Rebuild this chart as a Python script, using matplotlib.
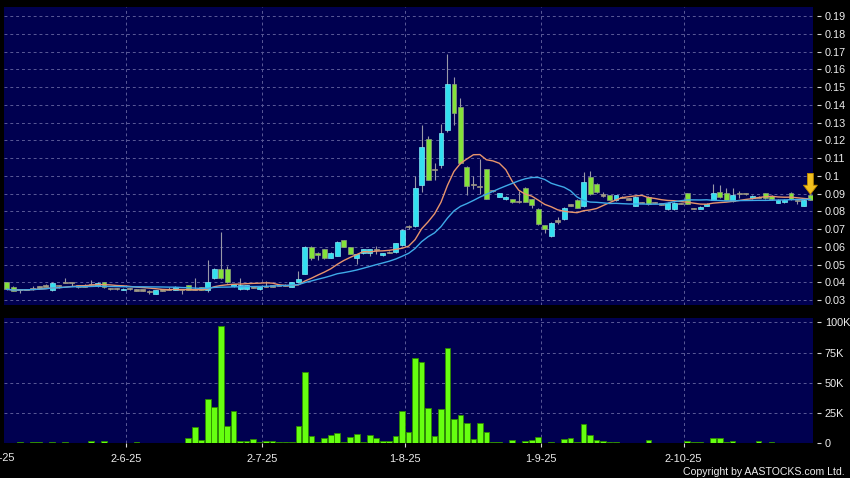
import numpy as np
import pandas as pd
import matplotlib
matplotlib.use('Agg')
import matplotlib.pyplot as plt

plt.rcParams['font.family'] = ['Liberation Sans', 'DejaVu Sans']

# 日线数据 (开, 高, 低, 收), 125 个交易日
opens = [0.0400, 0.0375, 0.0360, 0.0360, 0.0365, 0.0375, 0.0380, 0.0355, 0.0383, 0.0400,
         0.0398, 0.0380, 0.0380, 0.0390, 0.0380, 0.0400, 0.0365, 0.0365, 0.0362, 0.0365,
         0.0358, 0.0357, 0.0350, 0.0336, 0.0357, 0.0360, 0.0357, 0.0360, 0.0383, 0.0362,
         0.0372, 0.0357, 0.0423, 0.0476, 0.0474, 0.0380, 0.0362, 0.0362, 0.0375, 0.0362,
         0.0378, 0.0380, 0.0385, 0.0385, 0.0376, 0.0400, 0.0450, 0.0600, 0.0567, 0.0588,
         0.0540, 0.0551, 0.0637, 0.0600, 0.0540, 0.0564, 0.0564, 0.0585, 0.0553, 0.0570,
         0.0571, 0.0609, 0.0716, 0.0720, 0.0947, 0.1206, 0.1037, 0.1060, 0.1259, 0.1516,
         0.1388, 0.1050, 0.0953, 0.0940, 0.1037, 0.0917, 0.0883, 0.0868, 0.0870, 0.0855,
         0.0934, 0.0868, 0.0815, 0.0724, 0.0662, 0.0746, 0.0755, 0.0836, 0.0866, 0.0828,
         0.0995, 0.0955, 0.0893, 0.0890, 0.0862, 0.0880, 0.0870, 0.0831, 0.0850, 0.0880,
         0.0850, 0.0842, 0.0814, 0.0814, 0.0845, 0.0902, 0.0818, 0.0820, 0.0830, 0.0867,
         0.0910, 0.0902, 0.0858, 0.0902, 0.0900, 0.0874, 0.0880, 0.0902, 0.0887, 0.0850,
         0.0855, 0.0902, 0.0860, 0.0830, 0.0895]
highs = [0.0405, 0.0378, 0.0362, 0.0365, 0.0380, 0.0378, 0.0390, 0.0400, 0.0385, 0.0424,
         0.0400, 0.0385, 0.0390, 0.0415, 0.0400, 0.0405, 0.0367, 0.0367, 0.0367, 0.0367,
         0.0362, 0.0360, 0.0358, 0.0358, 0.0360, 0.0375, 0.0380, 0.0362, 0.0385, 0.0425,
         0.0375, 0.0527, 0.0480, 0.0686, 0.0493, 0.0392, 0.0423, 0.0385, 0.0380, 0.0376,
         0.0410, 0.0385, 0.0390, 0.0390, 0.0402, 0.0464, 0.0605, 0.0605, 0.0570, 0.0590,
         0.0570, 0.0635, 0.0640, 0.0602, 0.0560, 0.0590, 0.0590, 0.0608, 0.0568, 0.0575,
         0.0625, 0.0700, 0.0725, 0.1000, 0.1285, 0.1225, 0.1075, 0.1293, 0.1690, 0.1560,
         0.1440, 0.1055, 0.1000, 0.1093, 0.1040, 0.0920, 0.0905, 0.0885, 0.0872, 0.0915,
         0.0936, 0.0870, 0.0817, 0.0726, 0.0740, 0.0770, 0.0823, 0.0840, 0.0870, 0.1020,
         0.1030, 0.0960, 0.0910, 0.0895, 0.0895, 0.0885, 0.0875, 0.0885, 0.0855, 0.0885,
         0.0855, 0.0845, 0.0852, 0.0852, 0.0850, 0.0905, 0.0822, 0.0830, 0.0845, 0.0955,
         0.0950, 0.0930, 0.0930, 0.0915, 0.0905, 0.0890, 0.0885, 0.0905, 0.0890, 0.0870,
         0.0868, 0.0910, 0.0862, 0.0868, 0.0897]
lows = [0.0360, 0.0352, 0.0340, 0.0355, 0.0355, 0.0365, 0.0375, 0.0350, 0.0370, 0.0395,
        0.0380, 0.0370, 0.0375, 0.0380, 0.0375, 0.0368, 0.0360, 0.0360, 0.0360, 0.0360,
        0.0350, 0.0350, 0.0335, 0.0336, 0.0352, 0.0355, 0.0355, 0.0335, 0.0355, 0.0358,
        0.0355, 0.0347, 0.0420, 0.0420, 0.0395, 0.0375, 0.0360, 0.0360, 0.0370, 0.0355,
        0.0372, 0.0375, 0.0380, 0.0380, 0.0374, 0.0398, 0.0445, 0.0524, 0.0524, 0.0530,
        0.0535, 0.0548, 0.0598, 0.0558, 0.0502, 0.0560, 0.0550, 0.0560, 0.0550, 0.0565,
        0.0568, 0.0605, 0.0700, 0.0715, 0.0910, 0.0975, 0.0980, 0.1044, 0.1250, 0.1285,
        0.1070, 0.0890, 0.0925, 0.0896, 0.0868, 0.0910, 0.0880, 0.0865, 0.0850, 0.0850,
        0.0852, 0.0820, 0.0724, 0.0681, 0.0655, 0.0730, 0.0750, 0.0830, 0.0820, 0.0825,
        0.0890, 0.0905, 0.0880, 0.0862, 0.0860, 0.0875, 0.0865, 0.0828, 0.0845, 0.0838,
        0.0845, 0.0838, 0.0810, 0.0810, 0.0840, 0.0840, 0.0812, 0.0818, 0.0828, 0.0865,
        0.0878, 0.0862, 0.0855, 0.0875, 0.0895, 0.0870, 0.0875, 0.0872, 0.0865, 0.0848,
        0.0850, 0.0865, 0.0840, 0.0828, 0.0863]
closes = [0.0362, 0.0352, 0.0360, 0.0360, 0.0365, 0.0375, 0.0380, 0.0398, 0.0383, 0.0400,
          0.0398, 0.0380, 0.0380, 0.0390, 0.0395, 0.0372, 0.0365, 0.0365, 0.0366, 0.0365,
          0.0358, 0.0357, 0.0350, 0.0355, 0.0357, 0.0360, 0.0375, 0.0360, 0.0357, 0.0362,
          0.0357, 0.0400, 0.0476, 0.0423, 0.0400, 0.0390, 0.0383, 0.0383, 0.0375, 0.0373,
          0.0378, 0.0380, 0.0385, 0.0385, 0.0400, 0.0422, 0.0600, 0.0540, 0.0553, 0.0540,
          0.0567, 0.0630, 0.0600, 0.0562, 0.0558, 0.0586, 0.0586, 0.0585, 0.0566, 0.0570,
          0.0622, 0.0693, 0.0716, 0.0930, 0.1165, 0.0980, 0.1037, 0.1244, 0.1516, 0.1353,
          0.1075, 0.0943, 0.0953, 0.0940, 0.0872, 0.0917, 0.0903, 0.0883, 0.0854, 0.0855,
          0.0855, 0.0834, 0.0727, 0.0700, 0.0737, 0.0746, 0.0820, 0.0836, 0.0822, 0.0965,
          0.0900, 0.0912, 0.0893, 0.0866, 0.0890, 0.0880, 0.0870, 0.0880, 0.0850, 0.0842,
          0.0850, 0.0842, 0.0850, 0.0850, 0.0845, 0.0842, 0.0818, 0.0827, 0.0842, 0.0904,
          0.0880, 0.0865, 0.0895, 0.0902, 0.0900, 0.0888, 0.0880, 0.0874, 0.0868, 0.0865,
          0.0865, 0.0868, 0.0860, 0.0865, 0.0865]
# 成交量 (千股)
volumes = [0.3, 0.2, 1.1, 0.2, 1.0, 1.0, 0.2, 0.8, 0.2, 1.0,
           0.4, 0.2, 0.2, 1.6, 0.2, 1.9, 0.2, 0.5, 0.1, 0.1,
           1.0, 0.1, 0.2, 0.2, 0.2, 0.2, 0.2, 0.1, 4.4, 13.5,
           2.5, 37, 30, 97, 14, 26.5, 2, 2, 3.3, 1.4,
           1.6, 1.6, 1.0, 1.0, 1.0, 14, 59, 6, 1.4, 4.4,
           6.6, 8.8, 1.4, 5, 7.4, 0.8, 6.9, 4.4, 1.6, 2.2,
           6, 27, 9.4, 70.5, 67, 29.5, 6, 28.6, 79, 19.8,
           23, 16.8, 3.9, 16.8, 9, 1.1, 0.8, 0.3, 2.5, 0.5,
           1.9, 2.8, 5.5, 0.5, 1.0, 0.5, 3.6, 4.4, 1.0, 16,
           7.2, 2.8, 2.2, 1.4, 0.8, 0.3, 0.2, 0.3, 0.1, 2.8,
           0.1, 0.5, 0.2, 0.1, 0.5, 2.2, 0.8, 0.8, 0.3, 4.7,
           4.1, 1.1, 1.6, 0.2, 0.2, 0.2, 1.9, 0.2, 1.0, 0.2,
           0.3, 0.2, 0.2, 0.3, 0.2]

tick_idx = [18, 39, 61, 82, 104]
tick_labels = ['2-6-25', '2-7-25', '1-8-25', '1-9-25', '2-10-25']
price_ticks = [0.03, 0.04, 0.05, 0.06, 0.07, 0.08, 0.09, 0.1, 0.11, 0.12,
               0.13, 0.14, 0.15, 0.16, 0.17, 0.18, 0.19]
vol_ticks = [0, 25, 50, 75, 100]
vol_tick_labels = ['0', '25K', '50K', '75K', '100K']

o = np.array(opens)
h = np.array(highs)
l = np.array(lows)
c = np.array(closes)
x = np.arange(len(c))

# 10日 / 20日均线
ma10 = pd.Series(c).rolling(10, min_periods=1).mean()
ma20 = pd.Series(c).rolling(20, min_periods=1).mean()

navy = '#000050'
grid_col = '#5A5A98'
cyan = '#33E0F0'
green = '#84E23A'
flat = '#A09A84'
wick = '#9898A8'

fig = plt.figure(figsize=(8.5, 4.78), dpi=100, facecolor='black')
ax = fig.add_axes([4/850, 1-305/478, 809/850, 298/478], facecolor=navy)
axv = fig.add_axes([4/850, 1-443.3/478, 809/850, 125/478], facecolor=navy, sharex=ax)

# 蜡烛图
up = c > o
down = c < o
is_flat = np.abs(c - o) < 0.0007
body_bottom = np.where(is_flat, np.minimum(o, c) - 0.00035, np.minimum(o, c))
body_h = np.where(is_flat, 0.0007, np.abs(c - o))
colors = np.where(up, cyan, np.where(down, green, flat))
edges = np.where(up, '#7FE8F5', np.where(down, '#8E9C80', flat))
ax.vlines(x, l, h, color=wick, linewidth=0.8, zorder=2)
ax.bar(x, body_h, bottom=body_bottom, width=0.76, color=colors,
       edgecolor=edges, linewidth=0.5, zorder=3)

ax.plot(x, ma10, color='#E8956C', linewidth=1.0, zorder=4)
ax.plot(x, ma20, color='#3FAAE8', linewidth=1.0, zorder=4)

# 最后一根K线上方的箭头
ax.annotate('', xy=(x[-1], h[-1]), xytext=(0, 15), textcoords='offset points',
            arrowprops=dict(arrowstyle='simple,head_length=0.65,head_width=1.0,tail_width=0.42',
                            fc='#F2C01E', ec='#C08A00', lw=0.6, shrinkA=0, shrinkB=0),
            zorder=6)

# 成交量
axv.bar(x, volumes, width=0.88, color='#66FF10', edgecolor='#2E8A00', linewidth=0.6, zorder=3)

ax.set_xlim(-0.43, 124.4)
ax.set_ylim(0.0273, 0.1952)
axv.set_ylim(0, 103.3)

for a in (ax, axv):
    for s in a.spines.values():
        s.set_visible(False)
    a.spines['right'].set_position(('outward', 3))
    a.yaxis.tick_right()
    a.tick_params(axis='y', colors='#D8D8D8', labelcolor='#EEEEEE', labelsize=7.8,
                  length=3, width=0.8, pad=2.5)
    a.set_xticks([t + 0.45 for t in tick_idx])
    a.grid(True, color=grid_col, linestyle=(0, (3, 3)), linewidth=0.7, zorder=0)
    a.set_axisbelow(True)

ax.set_yticks(price_ticks)
ax.set_yticklabels([f'{v:g}' for v in price_ticks])
ax.tick_params(axis='x', length=0, labelbottom=False)

axv.set_yticks(vol_ticks)
axv.set_yticklabels(vol_tick_labels)
axv.set_xticklabels(tick_labels)
axv.tick_params(axis='x', colors='#D8D8D8', labelcolor='#EEEEEE', labelsize=7.8,
                length=3, width=0.8, pad=5)

# 左侧被截断的首个日期标签
fig.text(15/850, 1-458/478, '2-5-25', color='#EEEEEE', fontsize=7.8, ha='right', va='center')
fig.text(845/850, 1-472/478, 'Copyright by AASTOCKS.com Ltd.', color='#EEEEEE',
         fontsize=7.6, ha='right', va='center')

fig.savefig('out.png', dpi=100, facecolor='black')
